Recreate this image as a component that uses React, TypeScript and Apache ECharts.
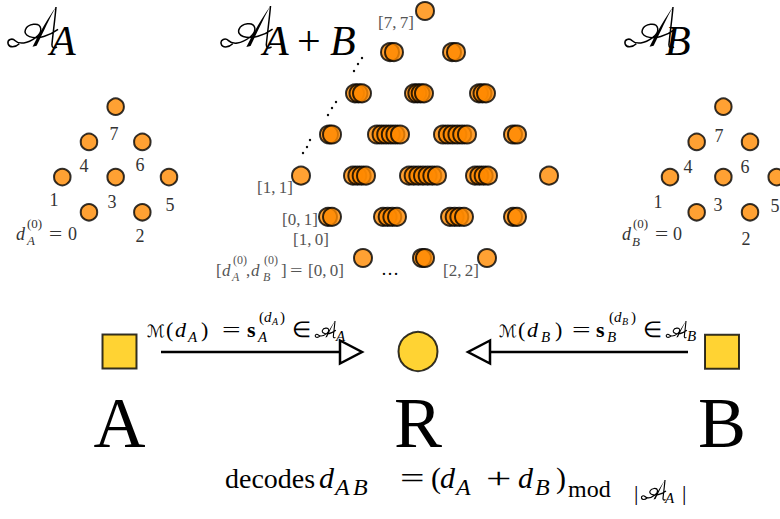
import React, { useEffect, useRef } from "react";
import * as echarts from "echarts";

// Constellation of A (and identical one of B), lattice coordinates
const CONST_X = [-1, -2, 1, 0, -1, 2, 1, 0];
const CONST_Y = [0, 1, 0, 1, 2, 1, 2, 3];
const CONST_LABELS = ["0", "1", "2", "3", "4", "5", "6", "7"];

// Sum constellation A+B: cluster lattice position and multiplicity
const MID_COL = [0, -1, 1, -2, 0, 2, -3, -1, 1, 3, -4, -2, 0, 2, 4, -3, -1, 1, 3, -2, 0, 2];
const MID_ROW = [6, 5, 5, 4, 4, 4, 3, 3, 3, 3, 2, 2, 2, 2, 2, 1, 1, 1, 1, 0, 0, 0];
const MID_COUNT = [1, 2, 2, 3, 4, 3, 2, 6, 6, 2, 1, 4, 7, 4, 1, 2, 4, 4, 2, 1, 2, 1];

// Nodes of the bottom diagram
const NODE_NAMES = ["A", "R", "B"];
const NODE_X = [119.5, 418, 722];
const NODE_Y = [351.5, 351.5, 351.8];

// rendering spread (px) of overlapping markers inside each cluster: [first, last]
const MID_SPREAD = [
  [0, 0], [-4, 0], [-4, 0], [-8, -1], [-11, -1], [-8, -1], [-3, 0], [-17, 6], [-13, 11], [-5, -1],
  [0, 0], [-10, 3], [-16, 12], [-12, 1], [0, 0], [-4, 0], [-11, 3], [-6, 8], [-5, -1], [0, 0], [-3, 0], [0, 0],
];

// calligraphic (script) capital A, drawn as two shapes in a 52x40 box
const SCRIPT_A_FILL = "M50,0 C44,10 38,24 31,38 L27,39 C34,25 42,11 50,0 Z";
const SCRIPT_A_STROKE =
  "M50,0 C49,12 47,26 46,37 C46,40 48,41 51,39 " +
  "M14,36 C10,40 4,40 3,36 C2,32 7,30 10,33 C14,37 22,36 30,30 C38,24 36,16 28,17 C20,18 16,26 24,29 C32,32 44,28 52,22";
echarts.graphic.registerShape("scriptAFill", echarts.graphic.extendPath(SCRIPT_A_FILL, {}));
echarts.graphic.registerShape("scriptAStroke", echarts.graphic.extendPath(SCRIPT_A_STROKE, {}));

const SERIF = "'Liberation Serif', 'Times New Roman', serif";
const ORANGE = "#FF8A00";
const GOLD = "#FFC800";

type TO = { it?: boolean; b?: boolean; c?: string; al?: string; ff?: string; sx?: number };
function T(text: string, x: number, base: number, size: number, o: TO = {}) {
  return {
    type: "text",
    x,
    y: base - 0.34 * size,
    scaleX: o.sx || 1,
    silent: true,
    style: {
      text,
      fontFamily: o.ff || SERIF,
      fontSize: size,
      fontStyle: o.it ? "italic" : "normal",
      fontWeight: o.b ? "bold" : "normal",
      fill: o.c || "#000",
      textAlign: o.al || "left",
      textVerticalAlign: "middle",
    },
  };
}

function scriptA(x: number, y: number, s: number, lw: number) {
  return {
    type: "group",
    x,
    y,
    scaleX: s,
    scaleY: s,
    silent: true,
    children: [
      { type: "scriptAFill", silent: true, style: { fill: "#000" } },
      { type: "scriptAStroke", silent: true, style: { fill: "none", stroke: "#000", lineWidth: lw / s } },
    ],
  };
}

function buildGraphic() {
  const g: any[] = [];
  const SCR = "'DejaVu Serif', 'DejaVu Sans', serif";
  // titles
  g.push(scriptA(5, 7, 1.02, 1.5));
  g.push(T("A", 50, 55, 42, { it: true }));
  g.push(scriptA(218, 6, 1.05, 1.5));
  g.push(T("A", 263, 55, 42, { it: true }));
  g.push(T("+", 297, 55, 42));
  g.push(T("B", 330, 55, 42, { it: true }));
  g.push(scriptA(622, 7, 1.02, 1.5));
  g.push(T("B", 665, 55, 42, { it: true }));

  // constellation digit labels
  const LC = "#333";
  const leftLab: [string, number, number][] = [
    ["7", 114, 140], ["4", 84, 172], ["6", 140, 171], ["1", 54, 206], ["3", 112, 208], ["5", 170, 211], ["2", 140, 242],
  ];
  const rightLab: [string, number, number][] = [
    ["7", 719, 142], ["4", 688, 173], ["6", 745, 173], ["1", 658, 208], ["3", 718, 211], ["5", 775, 212], ["2", 746, 245],
  ];
  [...leftLab, ...rightLab].forEach(([t, x, b]) => g.push(T(t, x, b, 18, { c: LC, al: "center" })));
  // d_A^(0) = 0
  g.push(T("d", 16, 240, 18, { it: true, c: LC }));
  g.push(T("(0)", 27, 228, 13, { c: LC }));
  g.push(T("A", 27, 245, 13, { it: true, c: LC }));
  g.push(T("=", 49, 240, 18, { c: LC, sx: 1.3 }));
  g.push(T("0", 68, 240, 18, { c: LC }));
  // d_B^(0) = 0
  g.push(T("d", 622, 240, 18, { it: true, c: LC }));
  g.push(T("(0)", 633, 228, 13, { c: LC }));
  g.push(T("B", 632, 246, 13, { it: true, c: LC }));
  g.push(T("=", 655, 240, 18, { c: LC, sx: 1.3 }));
  g.push(T("0", 673, 240, 18, { c: LC }));

  // middle labels
  const MC = "#555";
  g.push(T("[7,\u20097]", 378, 28, 17, { c: MC }));
  g.push(T("[1,\u20091]", 257, 193, 17, { c: MC }));
  g.push(T("[0,\u20091]", 282, 225, 17, { c: MC }));
  g.push(T("[1,\u20090]", 293, 245, 17, { c: MC }));
  g.push(T("[2,\u20092]", 443, 276, 17, { c: MC }));
  g.push(T("[", 216, 276, 17, { c: MC }));
  g.push(T("d", 222, 276, 17, { it: true, c: MC }));
  g.push(T("(0)", 233, 264, 12, { c: MC }));
  g.push(T("A", 232, 281, 12, { it: true, c: MC }));
  g.push(T(",", 246, 276, 17, { c: MC }));
  g.push(T("d", 251, 276, 17, { it: true, c: MC }));
  g.push(T("(0)", 264, 264, 12, { c: MC }));
  g.push(T("B", 263, 281, 12, { it: true, c: MC }));
  g.push(T("]", 281, 276, 17, { c: MC }));
  g.push(T("=", 290, 276, 17, { c: MC, sx: 1.3 }));
  g.push(T("[0,\u20090]", 308, 276, 17, { c: MC }));
  g.push(T("\u2026", 381, 275, 18, { c: "#000" }));

  // diagonal dots
  const dots = [
    [362, 58], [358, 64], [354, 71],
    [336, 102], [332, 108], [328, 115],
    [310, 140], [307, 147], [303, 153],
  ];
  dots.forEach(([x, y]) => g.push({ type: "circle", silent: true, shape: { cx: x, cy: y, r: 1.2 }, style: { fill: "#000" } }));

  // arrows
  g.push({ type: "line", silent: true, shape: { x1: 161, y1: 352, x2: 340, y2: 352 }, style: { stroke: "#000", lineWidth: 2.5 } });
  g.push({ type: "polygon", silent: true, shape: { points: [[340, 340.5], [362, 352], [340, 363.5]] }, style: { fill: "#fff", stroke: "#000", lineWidth: 2.5 } });
  g.push({ type: "line", silent: true, shape: { x1: 688, y1: 352, x2: 490, y2: 352 }, style: { stroke: "#000", lineWidth: 2.5 } });
  g.push({ type: "polygon", silent: true, shape: { points: [[490, 340.5], [468, 352], [490, 363.5]] }, style: { fill: "#fff", stroke: "#000", lineWidth: 2.5 } });

  // arrow label A
  g.push(T("ℳ", 147, 337, 17, { ff: SCR }));
  g.push(T("(", 166, 337, 22));
  g.push(T("d", 175, 337, 22, { it: true }));
  g.push(T("A", 188, 342, 15, { it: true }));
  g.push(T(")", 201, 337, 22));
  g.push(T("=", 222, 337, 22, { sx: 1.5 }));
  g.push(T("s", 247, 337, 22, { b: true }));
  g.push(T("(", 259, 322, 15));
  g.push(T("d", 264, 322, 15, { it: true }));
  g.push(T("A", 272, 325, 10, { it: true }));
  g.push(T(")", 280, 322, 15));
  g.push(T("A", 258, 342, 15, { it: true }));
  g.push(T("∈", 292, 337, 22));
  g.push(scriptA(314, 321, 0.42, 1.1));
  g.push(T("A", 336, 341, 15, { it: true }));
  // arrow label B
  g.push(T("ℳ", 499, 337, 17, { ff: SCR }));
  g.push(T("(", 518, 337, 22));
  g.push(T("d", 527, 337, 22, { it: true }));
  g.push(T("B", 541, 342, 15, { it: true }));
  g.push(T(")", 555, 337, 22));
  g.push(T("=", 572, 337, 22, { sx: 1.5 }));
  g.push(T("s", 596, 337, 22, { b: true }));
  g.push(T("(", 609, 322, 15));
  g.push(T("d", 614, 322, 15, { it: true }));
  g.push(T("B", 622, 325, 10, { it: true }));
  g.push(T(")", 631, 322, 15));
  g.push(T("B", 607, 342, 15, { it: true }));
  g.push(T("∈", 643, 337, 22));
  g.push(scriptA(665, 321, 0.42, 1.1));
  g.push(T("B", 687, 341, 15, { it: true }));

  // big node letters
  NODE_NAMES.forEach((n, i) => g.push(T(n, NODE_X[i], 447, 72, { al: "center" })));

  // bottom formula
  g.push(T("decodes", 225, 488, 28));
  g.push(T("d", 319, 488, 30, { it: true }));
  g.push(T("A", 335, 495, 24, { it: true }));
  g.push(T("B", 353, 495, 24, { it: true }));
  g.push(T("=", 400, 488, 30, { sx: 1.45 }));
  g.push(T("(", 431, 488, 30));
  g.push(T("d", 440, 488, 30, { it: true }));
  g.push(T("A", 456, 495, 24, { it: true }));
  g.push(T("+", 486, 488, 30, { sx: 1.5 }));
  g.push(T("d", 518, 488, 30, { it: true }));
  g.push(T("B", 535, 495, 24, { it: true }));
  g.push(T(")", 556, 488, 30));
  g.push(T("mod", 568, 497, 24));
  g.push(T("|", 634, 500, 22));
  g.push(scriptA(640, 480, 0.5, 1.2));
  g.push(T("A", 665, 503, 15, { it: true }));
  g.push(T("|", 682, 500, 22));
  return g;
}

function buildMid() {
  const out: any[] = [];
  MID_COL.forEach((c, i) => {
    const n = MID_COUNT[i];
    const [s0, s1] = MID_SPREAD[i];
    for (let j = 0; j < n; j++) {
      const off = n === 1 ? s0 : s0 + ((s1 - s0) * j) / (n - 1);
      out.push({ value: [c, MID_ROW[i]], symbolOffset: [off, 0] });
    }
  });
  return out;
}

export default function App() {
  const ref = useRef<HTMLDivElement>(null);
  useEffect(() => {
    if (!ref.current) return;
    const chart = echarts.init(ref.current, undefined, { renderer: "svg" });
    const constData = CONST_X.map((x, i) => ({ value: [x, CONST_Y[i]], name: CONST_LABELS[i] }));
    const pointStyle = { color: ORANGE, borderColor: "#000", borderWidth: 2 };
    const hidden = { show: false };
    const option: any = {
      animation: false,
      backgroundColor: "#fff",
      grid: [
        { left: 62.3, top: 106.7, width: 106.7, height: 105.6 },
        { left: 301, top: 11, width: 248, height: 247 },
        { left: 670, top: 106.7, width: 106.7, height: 105.6 },
        { left: 0, top: 0, width: 780, height: 519 },
      ],
      xAxis: [
        { gridIndex: 0, type: "value", min: -2, max: 2, ...hidden },
        { gridIndex: 1, type: "value", min: -4, max: 4, ...hidden },
        { gridIndex: 2, type: "value", min: -2, max: 2, ...hidden },
        { gridIndex: 3, type: "value", min: 0, max: 780, ...hidden },
      ],
      yAxis: [
        { gridIndex: 0, type: "value", min: 0, max: 3, ...hidden },
        { gridIndex: 1, type: "value", min: 0, max: 6, ...hidden },
        { gridIndex: 2, type: "value", min: 0, max: 3, ...hidden },
        { gridIndex: 3, type: "value", min: 0, max: 519, inverse: true, ...hidden },
      ],
      series: [
        { type: "scatter", name: "A", xAxisIndex: 0, yAxisIndex: 0, data: constData, symbolSize: 16.5, itemStyle: pointStyle, clip: false, silent: true },
        { type: "scatter", name: "A+B", xAxisIndex: 1, yAxisIndex: 1, data: buildMid(), symbolSize: 18, itemStyle: pointStyle, clip: false, silent: true },
        { type: "scatter", name: "B", xAxisIndex: 2, yAxisIndex: 2, data: constData, symbolSize: 16.5, itemStyle: pointStyle, clip: false, silent: true },
        {
          type: "scatter", name: "nodes", xAxisIndex: 3, yAxisIndex: 3, clip: false, silent: true,
          data: NODE_NAMES.map((n, i) => ({
            name: n,
            value: [NODE_X[i], NODE_Y[i]],
            symbol: n === "R" ? "circle" : "rect",
            symbolSize: n === "R" ? 39 : 34,
          })),
          itemStyle: { color: GOLD, borderColor: "#000", borderWidth: 2 },
        },
      ],
      graphic: { elements: buildGraphic() },
    };
    chart.setOption(option);
    return () => chart.dispose();
  }, []);
  return <div ref={ref} style={{ position: "fixed", left: 0, top: 0, width: 780, height: 519 }} />;
}
